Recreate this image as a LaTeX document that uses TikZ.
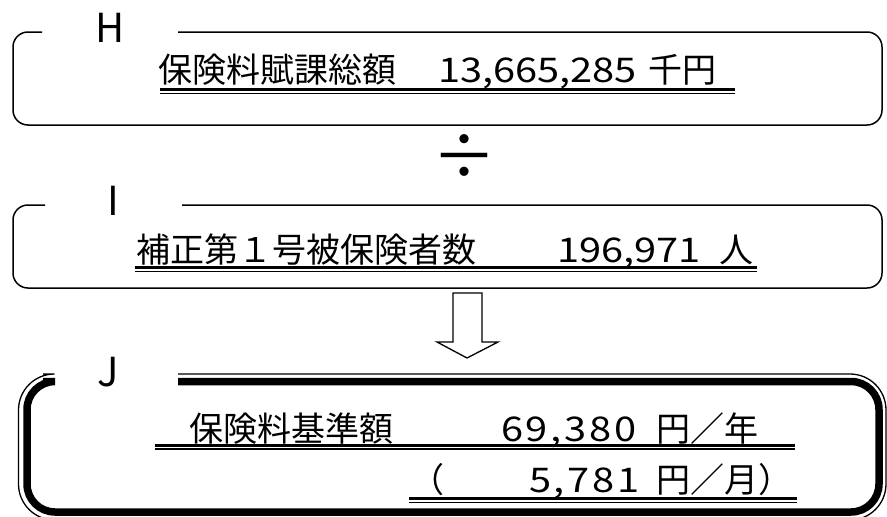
\documentclass[tikz,border=0pt]{standalone}
\usepackage{fontspec}
\setmainfont{Noto Sans CJK JP}
\newfontfamily\digfont[FakeStretch=1.17]{Noto Sans CJK JP}
\newfontfamily\digwide[FakeStretch=1.17,LetterSpace=8]{Noto Sans CJK JP}
\begin{document}
\begin{tikzpicture}[x=1pt,y=-1pt,
  txt/.style={anchor=base west,inner sep=0pt,font=\fontsize{34}{40}\selectfont},
  dig/.style={anchor=base west,inner sep=0pt,font=\fontsize{34}{40}\selectfont\digfont},
  digw/.style={anchor=base west,inner sep=0pt,font=\fontsize{34}{40}\selectfont\digwide},
  lbl/.style={anchor=center,inner sep=0pt,font=\fontsize{40}{46}\selectfont},
  frame/.style={line width=1.5pt,rounded corners=15pt},
  ulA/.style={line width=2.2pt},
  ulB/.style={line width=1.4pt},
]
\useasboundingbox (0,0) rectangle (887,517);
% ---- Box H
\draw[frame] (42,32) -- (13,32) -- (13,125) -- (882,125) -- (882,32) -- (178,32);
\node[lbl] (labH) at (110,28) {H};
\node[txt] (h1) at (158,82) {保険料賦課総額};
\node[dig] (h2) at (438,82) {13,665,285};
\node[txt] (h3) at (648,82) {千円};
\draw[ulA] (160,89.5) -- (735,89.5);
\draw[ulB] (160,93.5) -- (735,93.5);
% ---- divide
\node[inner sep=0pt,font=\fontsize{64}{70}\selectfont] (div) at (464,157) {÷};
% ---- Box I
\draw[frame] (45,205) -- (13,205) -- (13,288) -- (882,288) -- (882,205) -- (182,205);
\node[lbl] (labI) at (113,201) {I};
\node[txt] (i1) at (136,262) {補正第１号被保険者数};
\node[dig] (i2) at (557,262) {196,971};
\node[txt] (i3) at (719,262) {人};
\draw[ulA] (135,267.5) -- (757,267.5);
\draw[ulB] (135,271.5) -- (757,271.5);
% ---- block arrow
\draw[line width=1.3pt,line join=miter] (453,293) -- (453,342) -- (437,342) -- (467,358) -- (498,342) -- (482,342) -- (482,293) -- cycle;
% ---- Box J
\draw[line width=7.5pt,rounded corners=28pt] (43,381.5) -- (27,381.5) -- (27,512) -- (879,512) -- (879,381.5) -- (178,381.5);
\draw[line width=1.3pt,rounded corners=36pt] (43,374) -- (18.5,374) -- (18.5,520) -- (886,520) -- (886,374) -- (178,374);
\node[lbl] (labJ) at (108,372) {J};
\node[txt] (j1) at (189,441) {保険料基準額};
\node[digw] (j2) at (501,441) {69,380};
\node[txt] (j3) at (656,441) {円／年};
\draw[ulA] (155,445.5) -- (795,445.5);
\draw[ulB] (155,449) -- (795,449);
\node[txt] (k1) at (410,492) {（};
\node[digw] (k2) at (529,492) {5,781};
\node[txt] (k3) at (656,492) {円／月）};
\draw[ulA] (409,498.5) -- (797,498.5);
\draw[ulB] (409,502.5) -- (797,502.5);
\end{tikzpicture}
\end{document}
